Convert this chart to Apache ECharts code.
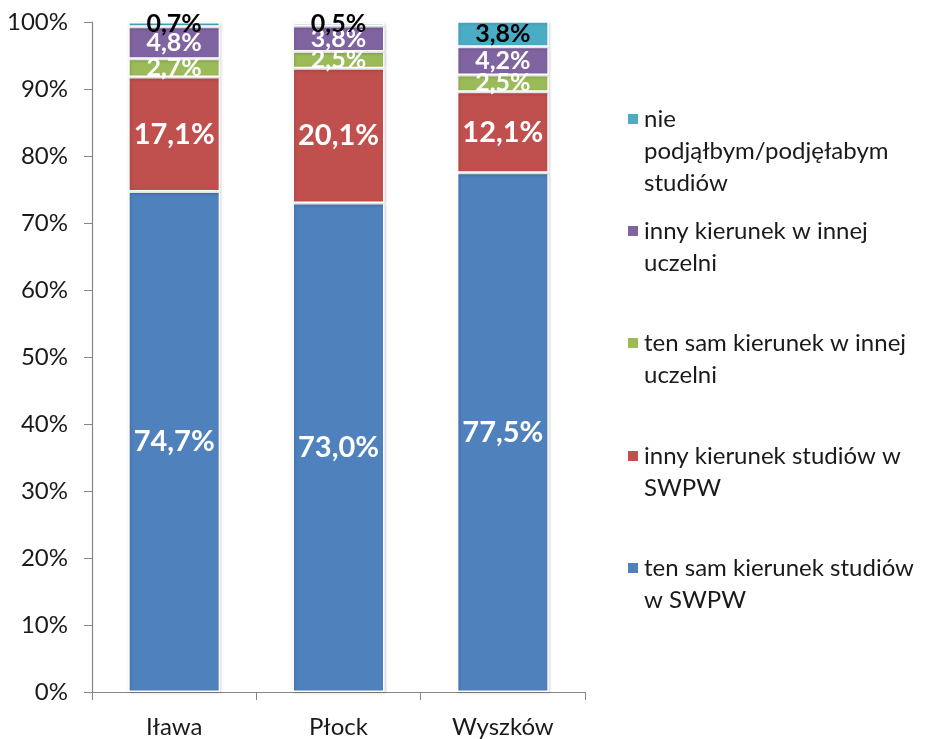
<!DOCTYPE html>
<html>
<head>
    <meta charset="utf-8">
    <title>Wybór studiów</title>
    <script src="https://cdn.jsdelivr.net/npm/echarts@6/dist/echarts.min.js"></script>
    <style>
        html, body { margin: 0; padding: 0; background: #fff; }
        #chart1 { width: 925px; height: 739px; }
    </style>
</head>
<body>
<div id="chart1"></div>
<script>
    // dane z wykresu (%)
    var categories = ['Iława', 'Płock', 'Wyszków'];
    var tenSamSWPW = [74.7, 73.0, 77.5];
    var innySWPW = [17.1, 20.1, 12.1];
    var tenSamInna = [2.7, 2.5, 2.5];
    var innyInna = [4.8, 3.8, 4.2];
    var niePodjalby = [0.7, 0.5, 3.8];

    var seriesNames = [
        'ten sam kierunek studiów w SWPW',
        'inny kierunek studiów w SWPW',
        'ten sam kierunek w innej uczelni',
        'inny kierunek w innej uczelni',
        'nie podjąłbym/podjęłabym studiów'
    ];
    // legenda - podział na linie jak w oryginale
    var legendText = [
        'ten sam kierunek studiów\nw SWPW',
        'inny kierunek studiów w\nSWPW',
        'ten sam kierunek w innej\nuczelni',
        'inny kierunek w innej\nuczelni',
        'nie\npodjąłbym/podjęłabym\nstudiów'
    ];
    var colors = ['#4F81BD', '#C0504D', '#9BBB59', '#8064A2', '#4BACC6'];
    var seriesData = [tenSamSWPW, innySWPW, tenSamInna, innyInna, niePodjalby];

    var font = 'Lato, "Open Sans", sans-serif';
    var LH = 32;
    var iconCenters = [568, 456, 343, 231, 119];

    function fmt(v) {
        return v.toFixed(1).replace('.', ',') + '%';
    }

    var legends = [];
    var series = [];
    for (var i = 0; i < seriesNames.length; i++) {
        var lines = legendText[i].split('\n').length;
        // puste linie na gorze, zeby ikona stala przy pierwszej linii tekstu
        var txt = new Array(lines).join(' \n') + legendText[i];
        legends.push({
            data: [seriesNames[i]],
            left: 626,
            top: iconCenters[i] - (2 * lines - 1) * LH / 2,
            padding: 0,
            orient: 'vertical',
            selectedMode: false,
            icon: 'rect',
            itemWidth: 12,
            itemHeight: 12,
            formatter: (function (t) { return function () { return t; }; })(txt),
            textStyle: {
                fontFamily: font,
                fontSize: 24,
                color: '#1a1a1a',
                lineHeight: LH
            }
        });
        var big = i < 2;
        series.push({
            name: seriesNames[i],
            type: 'bar',
            stack: 'total',
            barWidth: 92,
            data: seriesData[i],
            itemStyle: {
                color: colors[i],
                borderColor: '#fff',
                borderWidth: 1.5,
                shadowColor: 'rgba(0,0,0,0.18)',
                shadowBlur: 3,
                shadowOffsetX: 1,
                shadowOffsetY: 1
            },
            label: {
                show: true,
                position: 'inside',
                formatter: function (p) { return fmt(p.value); },
                fontFamily: font,
                fontWeight: 'bold',
                fontSize: big ? 29 : 25,
                color: i === 4 ? '#000' : '#fff'
            }
        });
    }

    var myChart1 = echarts.init(document.getElementById('chart1'));
    myChart1.setOption({
        animation: false,
        legend: legends,
        grid: {
            left: 92,
            right: 340,
            top: 22,
            bottom: 47
        },
        xAxis: {
            type: 'category',
            data: categories,
            axisLine: { lineStyle: { color: '#868686', width: 1.2 } },
            axisTick: { show: true, length: 8, lineStyle: { color: '#868686' } },
            axisLabel: {
                fontFamily: font,
                fontSize: 24,
                color: '#1a1a1a',
                margin: 23
            }
        },
        yAxis: {
            type: 'value',
            min: 0,
            max: 100,
            interval: 10,
            splitLine: { show: false },
            axisLine: { show: true, lineStyle: { color: '#868686', width: 1.2 } },
            axisTick: { show: true, length: 8, lineStyle: { color: '#868686' } },
            axisLabel: {
                formatter: '{value}%',
                fontFamily: font,
                fontSize: 24,
                color: '#1a1a1a',
                margin: 24
            }
        },
        series: series
    });
</script>
</body>
</html>
